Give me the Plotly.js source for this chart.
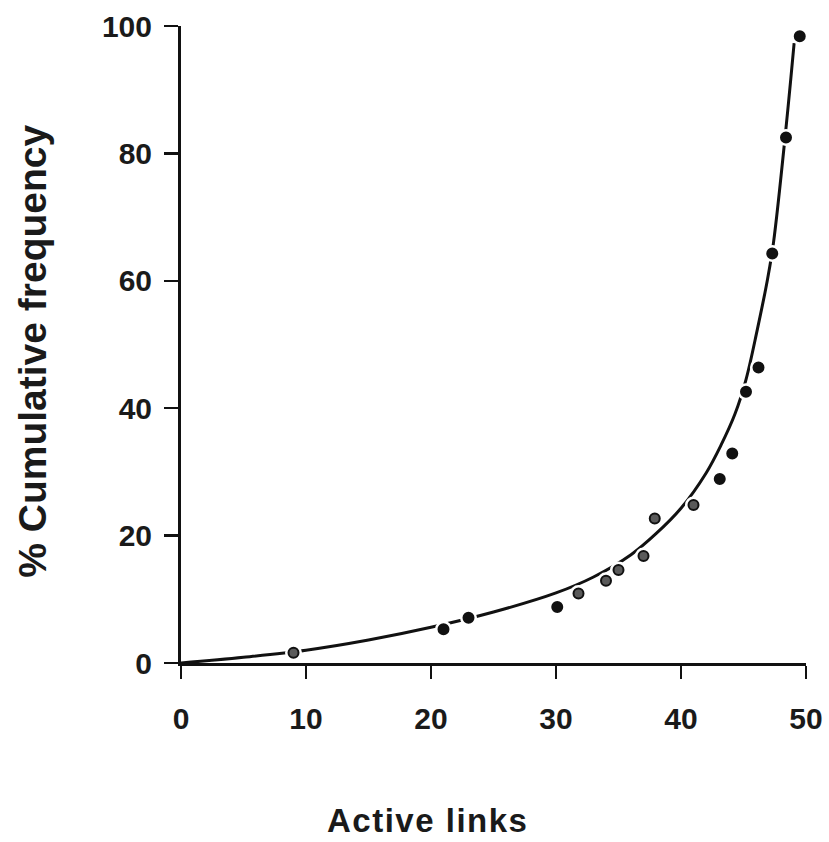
<!DOCTYPE html>
<html>
<head>
<meta charset="utf-8">
<script src="https://cdn.plot.ly/plotly-3.0.1.min.js"></script>
<style>
  html, body { margin: 0; padding: 0; background: #ffffff; }
  #chart { width: 829px; height: 842px; }
</style>
</head>
<body>
<div id="chart"></div>
<script>
// Observed points (active links, % cumulative frequency)
const pointX = [9, 21, 23, 30.1, 31.8, 34, 35, 37, 37.9, 41, 43.1, 44.1, 45.2, 46.2, 47.3, 48.4, 49.5];
const pointY = [1.6, 5.3, 7.1, 8.8, 10.9, 12.9, 14.6, 16.8, 22.7, 24.8, 28.9, 32.9, 42.6, 46.4, 64.3, 82.5, 98.4];
// ring-style (grey centre) markers vs solid markers
const pointStyle = ['ring', 'solid', 'solid', 'solid', 'ring', 'ring', 'ring', 'ring', 'ring', 'ring', 'solid', 'solid', 'solid', 'solid', 'solid', 'solid', 'solid'];

// Fitted curve
const curveX = [0, 5, 10, 15, 20, 25, 30, 33, 36, 38, 40, 42, 43.2, 44.3, 45.2, 46.1, 46.9, 47.4, 48.4, 49.05];
const curveY = [0, 0.9, 2.0, 3.6, 5.6, 8.0, 11.0, 13.5, 17.0, 20.3, 24.3, 29.8, 34.2, 39.0, 44.5, 52.3, 60.0, 66.0, 84.0, 97.3];

const xTicks = [0, 10, 20, 30, 40, 50];
const yTicks = [0, 20, 40, 60, 80, 100];

const xTitle = 'Active links';
const yTitle = '% Cumulative frequency';

const fillColors = pointStyle.map(s => s === 'ring' ? '#5a5a5a' : '#111111');

const traces = [
  {
    x: curveX, y: curveY, type: 'scatter', mode: 'lines',
    line: { color: '#111111', width: 3, shape: 'spline', smoothing: 1 },
    hoverinfo: 'skip', showlegend: false
  },
  {
    // white halo to break the curve around the plotted points
    x: pointX, y: pointY, type: 'scatter', mode: 'markers',
    marker: { color: '#ffffff', size: 17, line: { width: 0 } },
    hoverinfo: 'skip', showlegend: false, cliponaxis: false
  },
  {
    x: pointX, y: pointY, type: 'scatter', mode: 'markers',
    marker: { color: fillColors, size: 10, line: { color: '#111111', width: 2 } },
    showlegend: false, cliponaxis: false
  }
];

const tickFont = { family: 'Liberation Sans, Arial, sans-serif', size: 30, color: '#1a1a1a', weight: 700 };

const layout = {
  width: 829, height: 842,
  margin: { l: 181, r: 23, t: 26, b: 179 },
  paper_bgcolor: '#ffffff', plot_bgcolor: '#ffffff',
  showlegend: false,
  xaxis: {
    range: [0, 50], tickvals: xTicks, ticktext: xTicks.map(String),
    showgrid: false, zeroline: false,
    showline: true, linecolor: '#111111', linewidth: 3,
    ticks: 'outside', ticklen: 13, tickwidth: 2.5, tickcolor: '#111111',
    ticklabelstandoff: 14,
    tickfont: tickFont
  },
  yaxis: {
    range: [0, 100], tickvals: yTicks, ticktext: yTicks.map(String),
    showgrid: false, zeroline: false,
    showline: true, linecolor: '#111111', linewidth: 3,
    ticks: 'outside', ticklen: 14, tickwidth: 2.5, tickcolor: '#111111',
    ticklabelstandoff: 6,
    tickfont: tickFont
  },
  annotations: [
    {
      text: xTitle, xref: 'paper', yref: 'paper', x: 0.3936, y: -0.248,
      xanchor: 'center', yanchor: 'middle', showarrow: false,
      font: { family: 'Liberation Sans, Arial, sans-serif', size: 33, color: '#1a1a1a', weight: 700 }
    },
    {
      text: yTitle, xref: 'paper', yref: 'paper', x: -0.237, y: 0.49,
      xanchor: 'center', yanchor: 'middle', showarrow: false, textangle: -90,
      font: { family: 'Liberation Sans, Arial, sans-serif', size: 39, color: '#1a1a1a', weight: 700 }
    }
  ]
};

Plotly.newPlot('chart', traces, layout, { staticPlot: true, displayModeBar: false }).then(() => {
  const t = document.querySelectorAll('.annotation-text');
  if (t[0]) t[0].style.letterSpacing = '1.5px';
});
</script>
</body>
</html>
